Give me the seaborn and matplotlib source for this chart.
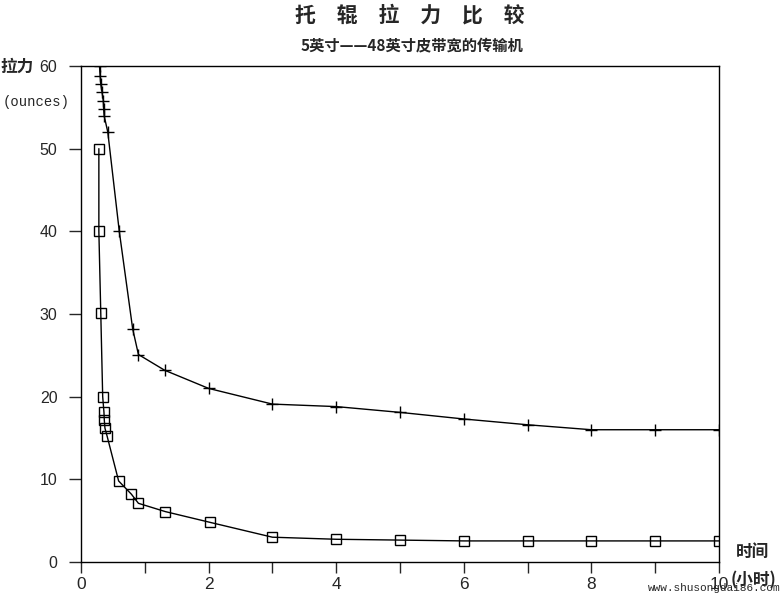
import matplotlib
matplotlib.use("Agg")
import matplotlib.pyplot as plt
import seaborn as sns
import pandas as pd
from matplotlib.ticker import MultipleLocator

# data (hours, ounces)
cross_x = [0.29, 0.30, 0.31, 0.33, 0.35, 0.355, 0.365, 0.42, 0.6, 0.81, 0.9, 1.31, 2, 3, 4, 5, 6, 7, 8, 9, 10]
cross_y = [60, 58.8, 57.8, 56.8, 55.8, 54.8, 53.9, 52.0, 40, 28.2, 25.1, 23.2, 21.0, 19.1, 18.8, 18.1, 17.3, 16.6, 16.0, 16.0, 16.0]

square_x = [0.28, 0.28, 0.31, 0.34, 0.36, 0.365, 0.375, 0.41, 0.59, 0.79, 0.9, 1.32, 2.02, 3, 4, 5, 6, 7, 8, 9, 10]
square_y = [50, 40, 30.1, 20.0, 18.1, 17.2, 16.2, 15.2, 9.8, 8.2, 7.1, 6.1, 4.8, 3.0, 2.75, 2.65, 2.55, 2.55, 2.55, 2.55, 2.55]

x_ticks = [0, 2, 4, 6, 8, 10]
y_ticks = [0, 10, 20, 30, 40, 50, 60]

title = "托　辊　拉　力　比　较"
subtitle = "5英寸——48英寸皮带宽的传输机"

sns.set_style("ticks")
plt.rcParams['font.family'] = ['Noto Sans CJK SC', 'DejaVu Sans']

df_cross = pd.DataFrame({'x': cross_x, 'y': cross_y})
df_square = pd.DataFrame({'x': square_x, 'y': square_y})

fig = plt.figure(figsize=(7.83, 5.95), dpi=100)
ax = fig.add_axes([81 / 783, 33 / 595, 638 / 783, 496 / 595])

sns.lineplot(data=df_cross, x='x', y='y', ax=ax, estimator=None, sort=False,
             color='black', linewidth=1, marker='+', markersize=9,
             markeredgewidth=1, markeredgecolor='black')
sns.lineplot(data=df_square, x='x', y='y', ax=ax, estimator=None, sort=False,
             color='black', linewidth=1, marker='s', markersize=7.5,
             markerfacecolor='none', markeredgewidth=1, markeredgecolor='black')

ax.set_xlim(0, 10)
ax.set_ylim(0, 60)
ax.set_xticks(x_ticks)
ax.set_yticks(y_ticks)
ax.xaxis.set_minor_locator(MultipleLocator(1))
ax.set_xlabel('')
ax.set_ylabel('')

for s in ax.spines.values():
    s.set_linewidth(1)
    s.set_color('black')

ax.tick_params(axis='y', direction='out', length=9, width=1, pad=8, labelsize=11.5)
ax.tick_params(axis='x', which='both', direction='out', length=8, width=1, pad=3, labelsize=12.5)
for lab in ax.get_xticklabels() + ax.get_yticklabels():
    lab.set_fontfamily(['Liberation Sans', 'DejaVu Sans'])

fig.text(410 / 783, 1 - 15 / 595, title, ha='center', va='center',
         fontsize=15, fontweight='bold')
fig.text(412 / 783, 1 - 46 / 595, subtitle, ha='center', va='center',
         fontsize=11, fontweight='bold')

fig.text(0 / 783, 1 - 67 / 595, "拉力", ha='left', va='center',
         fontsize=12, fontweight='bold')
fig.text(3 / 783, 1 - 102 / 595, "(ounces)", ha='left', va='center',
         fontsize=10, family=['Liberation Mono', 'DejaVu Sans Mono'])

fig.text(736 / 783, 1 - 552 / 595, "时间", ha='left', va='center',
         fontsize=12, fontweight='bold')
fig.text(731 / 783, 1 - 580 / 595, "(小时)", ha='left', va='center',
         fontsize=12, fontweight='bold')

fig.text(648 / 783, 1 - 588 / 595, "www.shusongdai86.com", ha='left', va='center',
         fontsize=8, family=['Liberation Mono', 'DejaVu Sans Mono'])

fig.savefig("out.png", dpi=100)
